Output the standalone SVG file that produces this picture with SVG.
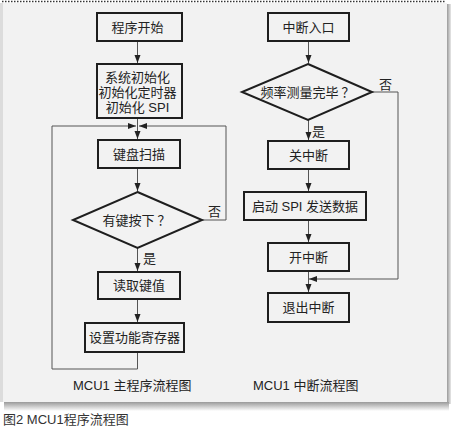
<svg xmlns="http://www.w3.org/2000/svg" width="451" height="428" viewBox="0 0 451 428">
<defs>
<marker id="arr" markerUnits="userSpaceOnUse" markerWidth="10" markerHeight="8" refX="8" refY="3" orient="auto">
<path d="M0,0 L8,3 L0,6 Z" fill="#222"/>
</marker>
<linearGradient id="shB" x1="0" y1="0" x2="0" y2="1">
<stop offset="0" stop-color="#9a9a9a"/>
<stop offset="1" stop-color="#ffffff"/>
</linearGradient>
<linearGradient id="shR" x1="0" y1="0" x2="1" y2="0">
<stop offset="0" stop-color="#9a9a9a"/>
<stop offset="1" stop-color="#e8e8e8"/>
</linearGradient>
</defs>
<style>
.box{fill:none;stroke:#1e1e1e;stroke-width:2}
.t{font-family:"Liberation Sans","Noto Sans CJK SC",sans-serif;font-size:13px;fill:#222;text-anchor:middle}
.q{font-family:"Noto Sans CJK SC",sans-serif;font-size:13px;fill:#222;text-anchor:middle}
.l{font-family:"Liberation Sans","Noto Sans CJK SC",sans-serif;font-size:13px;fill:#222}
.c{fill:none;stroke:#555;stroke-width:1}
</style>
<rect x="0" y="0" width="451" height="428" fill="#ffffff"/>
<rect x="447" y="4" width="4" height="400" fill="url(#shR)"/>
<rect x="4" y="402" width="445" height="9" fill="url(#shB)"/>
<rect x="0" y="3" width="447" height="399" fill="#f2f2f2"/>
<rect x="0" y="3" width="3" height="399" fill="#dcdcdc"/>
<line x1="2" y1="1.5" x2="446" y2="1.5" stroke="#333" stroke-width="1.5" stroke-dasharray="1.5,1.5"/>

<g id="connectors">
<path class="c" d="M137.5 41 V63" marker-end="url(#arr)"/>
<path class="c" d="M137.5 118 V139" marker-end="url(#arr)"/>
<path class="c" d="M52 369 V126 H136" marker-end="url(#arr)"/>
<path class="c" d="M202 220 H226 V126 H139" marker-end="url(#arr)"/>
<path class="c" d="M137.5 168 V191" marker-end="url(#arr)"/>
<path class="c" d="M137.5 248 V271" marker-end="url(#arr)"/>
<path class="c" d="M137.5 299 V322" marker-end="url(#arr)"/>
<path class="c" d="M137.5 352 V369 H52"/>
<path class="c" d="M308.5 41 V63" marker-end="url(#arr)"/>
<path class="c" d="M308.5 120 V140" marker-end="url(#arr)"/>
<path class="c" d="M308.5 169 V191" marker-end="url(#arr)"/>
<path class="c" d="M308.5 220 V242" marker-end="url(#arr)"/>
<path class="c" d="M308.5 271 V292" marker-end="url(#arr)"/>
<path class="c" d="M372 92 H398 V279 H309" marker-end="url(#arr)"/>
</g>

<g id="n_start"><rect class="box" x="97" y="13" width="85" height="28"/><text class="t" x="137.5" y="32">程序开始</text></g>
<g id="n_init"><rect class="box" x="97" y="64" width="85" height="54"/>
<text class="t" x="137.5" y="82">系统初始化</text>
<text class="t" x="137.5" y="97">初始化定时器</text>
<text class="t" x="137.5" y="112">初始化 SPI</text></g>
<g id="n_scan"><rect class="box" x="98" y="140" width="82" height="28"/><text class="t" x="139" y="159">键盘扫描</text></g>
<g id="n_key"><polygon class="box" points="137.5,192 202,220 137.5,248 73,220"/><text class="q" x="136.5" y="225">有键按下 ？</text></g>
<g id="n_read"><rect class="box" x="98" y="272" width="82" height="27"/><text class="t" x="139" y="290">读取键值</text></g>
<g id="n_set"><rect class="box" x="85" y="323" width="99" height="29"/><text class="t" x="134.5" y="342">设置功能寄存器</text></g>
<text class="l" x="208" y="216">否</text>
<text class="l" x="143" y="263">是</text>
<text class="l" x="73" y="390">MCU1 主程序流程图</text>

<g id="n_isr"><rect class="box" x="268" y="13" width="81" height="28"/><text class="t" x="308.5" y="32">中断入口</text></g>
<g id="n_freq"><polygon class="box" points="308,64 372,92 308,120 242,92"/><text class="q" x="307.5" y="97">频率测量完毕 ？</text></g>
<g id="n_off"><rect class="box" x="268" y="141" width="81" height="28"/><text class="t" x="308.5" y="160">关中断</text></g>
<g id="n_spi"><rect class="box" x="244" y="192" width="122" height="28"/><text class="t" x="305" y="211">启动 SPI 发送数据</text></g>
<g id="n_on"><rect class="box" x="268" y="243" width="81" height="28"/><text class="t" x="308.5" y="262">开中断</text></g>
<g id="n_exit"><rect class="box" x="268" y="293" width="81" height="29"/><text class="t" x="308.5" y="312">退出中断</text></g>
<text class="l" x="379" y="89">否</text>
<text class="l" x="312" y="136">是</text>
<text class="l" x="253" y="390">MCU1 中断流程图</text>

<text class="l" x="3" y="424" style="fill:#333">图2 MCU1程序流程图</text>
</svg>
